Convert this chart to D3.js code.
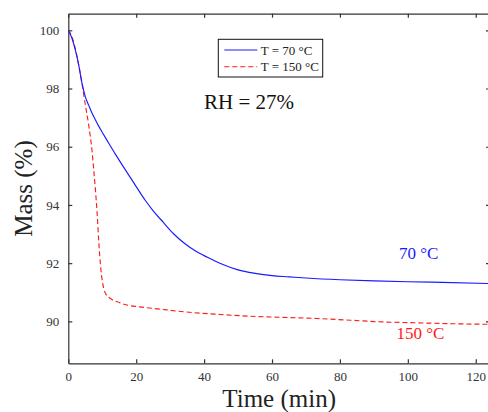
<!DOCTYPE html>
<html><head><meta charset="utf-8">
<script src="https://cdn.jsdelivr.net/npm/d3@7"></script>
<style>body{margin:0;background:#fff}svg{display:block}text{font-family:"Liberation Serif","Times New Roman",serif}</style>
</head><body><svg id="c" width="488" height="412"></svg>
<script>
const xTicks=[0,20,40,60,80,100,120];
const yTicks=[90,92,94,96,98,100];
const seriesNames=["T = 70 °C","T = 150 °C"];
const blueT=[0,1,2,3,4,5,6,7,8,9,10,12,14,16,18,20,22.6,25,28,31,34,37,41,45,50,55,60,65,70,80,90,100,110,124];
const blueV=[100,99.75,99.35,98.85,98.2,97.72,97.43,97.15,96.92,96.7,96.5,96.1,95.72,95.35,94.99,94.63,94.17,93.8,93.4,93.01,92.7,92.45,92.2,91.98,91.77,91.65,91.57,91.53,91.49,91.43,91.39,91.36,91.34,91.3];
const redT=[0,1,2,3,4,5,6,7,7.5,8,8.5,9,9.5,10,10.5,11,12,13,15,17,21,27,34,43,53,63,73,83,93,103,113,124];
const redV=[100,99.8,99.4,98.85,98.2,97.45,96.75,95.85,95.2,94.5,93.7,92.7,91.9,91.4,91.1,90.95,90.82,90.74,90.65,90.57,90.5,90.42,90.33,90.25,90.18,90.14,90.1,90.04,89.98,89.95,89.92,89.9];

const svg=d3.select("#c");
const L=68.3,T=13.7,R=490,B=363.3;
const x=d3.scaleLinear().domain([0,124.2]).range([L,R]);
const y=d3.scaleLinear().domain([88.56,100.57]).range([B,T]);
const ax="#333";
const serif="Liberation Serif";

svg.append("defs").append("clipPath").attr("id","clip").append("rect")
  .attr("x",L).attr("y",T).attr("width",R-L).attr("height",B-T);

function styleAxis(g,showText){
  g.select(".domain").attr("stroke",ax).attr("stroke-width",1.2);
  g.selectAll(".tick line").attr("stroke",ax).attr("stroke-width",1.2);
  g.selectAll(".tick text").attr("fill","#333").style("font-size","13px").style("font-family",serif);
  if(!showText) g.selectAll(".tick text").remove();
}
svg.append("g").attr("transform",`translate(0,${B})`)
  .call(d3.axisBottom(x).tickValues(xTicks).tickSize(-4).tickSizeOuter(0).tickPadding(8))
  .call(g=>styleAxis(g,true));
svg.append("g").attr("transform",`translate(0,${T})`)
  .call(d3.axisTop(x).tickValues(xTicks).tickSize(-4).tickSizeOuter(0))
  .call(g=>styleAxis(g,false));
svg.append("g").attr("transform",`translate(${L},0)`)
  .call(d3.axisLeft(y).tickValues(yTicks).tickSize(-4).tickSizeOuter(0).tickPadding(9))
  .call(g=>styleAxis(g,true));
svg.append("g").attr("transform",`translate(${R},0)`)
  .call(d3.axisRight(y).tickValues(yTicks).tickSize(-4).tickSizeOuter(0))
  .call(g=>styleAxis(g,false));

const line=d3.line().x(d=>x(d[0])).y(d=>y(d[1])).curve(d3.curveMonotoneX);
const blue=blueT.map((t,i)=>[t,blueV[i]]);
const red=redT.map((t,i)=>[t,redV[i]]);
const pg=svg.append("g").attr("clip-path","url(#clip)");
pg.append("path").datum(red).attr("d",line).attr("fill","none").attr("stroke","#ff1a1a").attr("stroke-width",1.15).attr("stroke-dasharray","5,3");
pg.append("path").datum(blue).attr("d",line).attr("fill","none").attr("stroke","#1a1aff").attr("stroke-width",1.15);

// labels
svg.append("text").attr("x",399).attr("y",259).attr("fill","#1a1aff").style("font-family",serif).style("font-size","17px").text("70 °C");
svg.append("text").attr("x",396.5).attr("y",339).attr("fill","#ff1a1a").style("font-family",serif).style("font-size","17px").text("150 °C");
svg.append("text").attr("x",204).attr("y",109).attr("fill","#111").style("font-family",serif).style("font-size","21px").text("RH = 27%");

// legend
const lg=svg.append("g");
lg.append("rect").attr("x",218.3).attr("y",39.3).attr("width",104.4).attr("height",37.7).attr("fill","#fff").attr("stroke","#111").attr("stroke-width",1);
const lcol=["#1a1aff","#ff1a1a"],ldash=[null,"5,3"],ly=[50,66.7];
seriesNames.forEach((n,i)=>{
  lg.append("line").attr("x1",224.3).attr("x2",257.3).attr("y1",ly[i]).attr("y2",ly[i]).attr("stroke",lcol[i]).attr("stroke-width",1.15).attr("stroke-dasharray",ldash[i]);
  lg.append("text").attr("x",260.7).attr("y",ly[i]+4.5).attr("fill","#222").style("font-family",serif).style("font-size","13px").text(n);
});

// axis titles
svg.append("text").attr("x",(L+R)/2).attr("y",406.5).attr("text-anchor","middle").attr("fill","#222").style("font-family",serif).style("font-size","25px").text("Time (min)");
svg.append("text").attr("transform",`translate(31.5,${(T+B)/2}) rotate(-90)`).attr("text-anchor","middle").attr("fill","#222").style("font-family",serif).style("font-size","25px").text("Mass (%)");
</script></body></html>
